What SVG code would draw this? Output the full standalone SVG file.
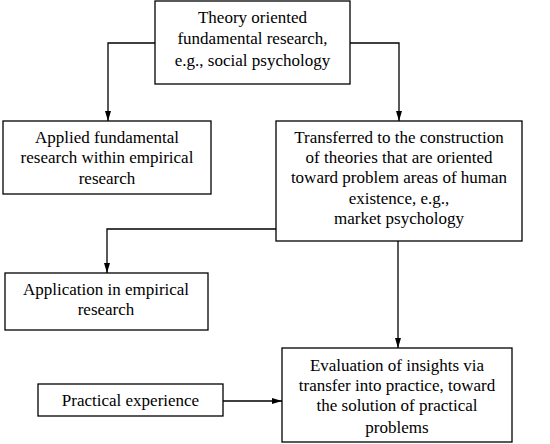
<svg xmlns="http://www.w3.org/2000/svg" width="550" height="444" viewBox="0 0 550 444">
<style>
  rect.box { fill: #fff; stroke: #000; stroke-width: 1.3; }
  text { font-family: "Liberation Serif", "Times New Roman", serif; font-size: 17px; fill: #000; text-anchor: middle; }
  .conn path { fill: none; stroke: #000; stroke-width: 1.3; marker-end: url(#arr); }
</style>
<defs>
  <marker id="arr" viewBox="0 0 10 6" refX="10" refY="3" markerWidth="10" markerHeight="6" markerUnits="userSpaceOnUse" orient="auto">
    <path d="M0,0 L10,3 L0,6 Z" fill="#000"/>
  </marker>
</defs>
<rect width="550" height="444" fill="#fff"/>
<g class="conn">
  <path d="M155,43 H108 V121"/>
  <path d="M350,43 H399 V121"/>
  <path d="M276,229 H107 V273"/>
  <path d="M398,241 V348"/>
  <path d="M223,401 H282"/>
</g>
<g id="theory">
  <rect class="box" x="155" y="1" width="195" height="83"/>
  <text x="252.5" y="23">Theory oriented</text>
  <text x="252.5" y="44">fundamental research,</text>
  <text x="252.5" y="66">e.g., social psychology</text>
</g>
<g id="applied">
  <rect class="box" x="3" y="121" width="208" height="73"/>
  <text x="107" y="143">Applied fundamental</text>
  <text x="107" y="163">research within empirical</text>
  <text x="107" y="184">research</text>
</g>
<g id="transferred">
  <rect class="box" x="276" y="121" width="246" height="120"/>
  <text x="399" y="143">Transferred to the construction</text>
  <text x="399" y="163">of theories that are oriented</text>
  <text x="399" y="183">toward problem areas of human</text>
  <text x="399" y="204">existence, e.g.,</text>
  <text x="399" y="224">market psychology</text>
</g>
<g id="application">
  <rect class="box" x="5" y="273" width="203" height="57"/>
  <text x="106" y="295">Application in empirical</text>
  <text x="106" y="315">research</text>
</g>
<g id="practical">
  <rect class="box" x="38" y="384" width="185" height="32"/>
  <text x="130.5" y="406">Practical experience</text>
</g>
<g id="evaluation">
  <rect class="box" x="282" y="348" width="230" height="94"/>
  <text x="397" y="371">Evaluation of insights via</text>
  <text x="397" y="391">transfer into practice, toward</text>
  <text x="397" y="411">the solution of practical</text>
  <text x="397" y="433">problems</text>
</g>
</svg>
